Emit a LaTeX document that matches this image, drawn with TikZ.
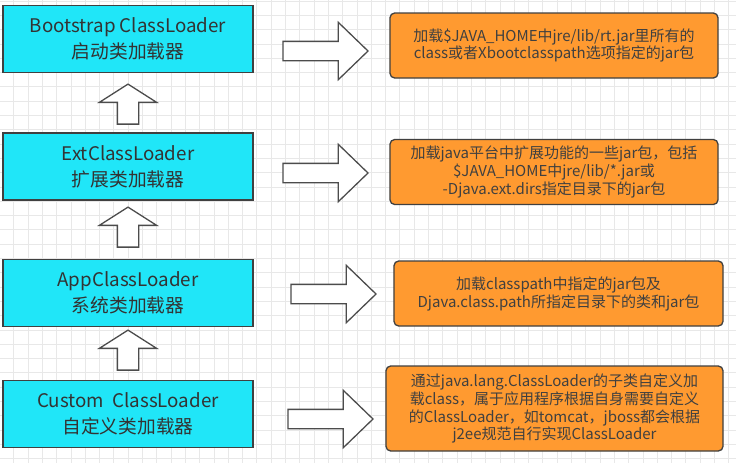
\documentclass[tikz,border=0pt]{standalone}
\usepackage{fontspec}
\setmainfont{Noto Sans CJK SC}
\usetikzlibrary{shapes.arrows, positioning}
\definecolor{loadercyan}{HTML}{20E6F8}
\definecolor{infoorange}{HTML}{FF9A30}

\begin{document}
\begin{tikzpicture}[
    x=0.03cm, y=-0.03cm,
    gridline/.style={black!9, line width=0.4pt},
    loader/.style={draw=black!75, line width=1.4pt, fill=loadercyan, text=black!80,
        minimum width=7.5cm, minimum height=2cm, align=center,
        font=\fontsize{16}{22}\selectfont},
    info/.style={draw=black!75, line width=1.1pt, fill=infoorange, rounded corners=4pt,
        text=black!75, align=center, font=\fontsize{12.8}{15.3}\selectfont,
        minimum width=9.84cm, minimum height=1.95cm},
    rarrow/.style={single arrow, draw=black!70, fill=white, line width=1.1pt,
        inner sep=0.27cm, single arrow head extend=0.57cm,
        single arrow tip angle=88, minimum height=2.55cm},
    uparrow/.style={rarrow, shape border rotate=90, inner sep=0.3cm,
        single arrow head extend=0.54cm, single arrow tip angle=115,
        minimum height=1.2cm}
]
\useasboundingbox[fill=white] (0,0) rectangle (736,463);

% background grid
\foreach \k in {0,...,51}
    \draw[gridline] ({13.6+14.3*\k},0) -- ({13.6+14.3*\k},463);
\foreach \k in {0,...,32}
    \draw[gridline] (0,{0.9+14.3*\k}) -- (736,{0.9+14.3*\k});

% class loaders
\node[loader] (boot) at (128, 39) {Bootstrap ClassLoader\\启动类加载器};
\node[loader] (ext)  at (128, 166.5) {ExtClassLoader\\扩展类加载器};
\node[loader] (app)  at (128, 293) {AppClassLoader\\系统类加载器};
\node[loader] (cust) at (128, 414) {Custom\ \ ClassLoader\\自定义类加载器};

% parent delegation
\node[uparrow] (up1) at (128, 107.5) {};
\node[uparrow] (up2) at (128, 230.5) {};
\node[uparrow] (up3) at (128, 353.5) {};

% what each loader loads
\node[rarrow] (r1) at (320.5, 51) {};
\node[rarrow] (r2) at (320.5, 173) {};
\node[rarrow] (r3) at (328.5, 294) {};
\node[rarrow] (r4) at (325.5, 419) {};

\node[info] (bootinfo) at (554, 45.5)
    {加载\$JAVA\_HOME中jre/lib/rt.jar里所有的\\class或者Xbootclasspath选项指定的jar包};
\node[info] (extinfo) at (554, 172)
    {加载java平台中扩展功能的一些jar包，包括\\\$JAVA\_HOME中jre/lib/*.jar或\\-Djava.ext.dirs指定目录下的jar包};
\node[info, minimum width=9.87cm] (appinfo) at (558.5, 293.5)
    {加载classpath中指定的jar包及\\Djava.class.path所指定目录下的类和jar包};
\node[info, minimum width=10.11cm, minimum height=2.55cm] (custinfo) at (554.5, 408.5)
    {通过java.lang.ClassLoader的子类自定义加\\载class，属于应用程序根据自身需要自定义\\的ClassLoader，如tomcat，jboss都会根据\\j2ee规范自行实现ClassLoader};
\end{tikzpicture}
\end{document}
